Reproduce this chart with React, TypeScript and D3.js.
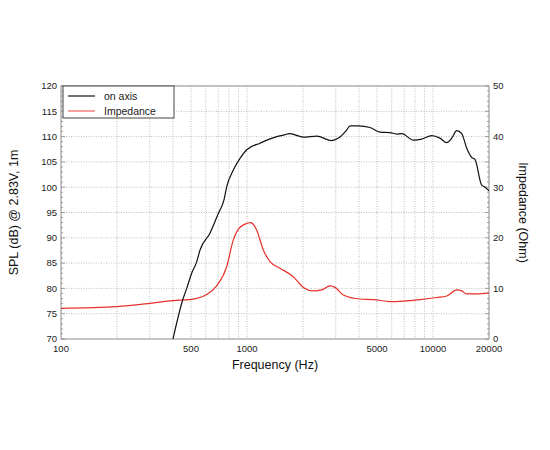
import React from "react";
import * as d3 from "d3";

const splFreq = [400, 451, 474, 504, 537, 559, 632, 701, 752, 778, 844, 917, 996, 1175, 1445, 1568, 1703, 2008, 2371, 2853, 3100, 3436, 3580, 3966, 4584, 5187, 5870, 6380, 6790, 7840, 8690, 9840, 10900, 11850, 12610, 13410, 14270, 15180, 16140, 16810, 18270, 19040, 20000];
const splDb = [70, 77.7, 80.0, 83.0, 85.3, 87.6, 90.9, 94.8, 97.5, 100.1, 103.4, 105.7, 107.4, 108.7, 110.0, 110.3, 110.6, 109.9, 110.1, 109.2, 109.7, 111.3, 112.1, 112.1, 111.8, 110.9, 110.8, 110.5, 110.6, 109.3, 109.5, 110.2, 109.7, 108.8, 109.7, 111.2, 110.6, 107.7, 105.9, 105.5, 100.4, 100.0, 99.3];

const impFreq = [100, 199, 301, 400, 494, 559, 607, 687, 778, 844, 898, 976, 1047, 1128, 1224, 1330, 1505, 1774, 2008, 2271, 2520, 2794, 2972, 3295, 4050, 4776, 5870, 6925, 8510, 10470, 11850, 13410, 14270, 15180, 17180, 20000];
const impOhm = [6.07, 6.4, 7.05, 7.6, 7.8, 8.2, 8.8, 10.5, 14.3, 19.6, 21.7, 22.7, 23.0, 21.5, 17.6, 15.3, 14.0, 12.3, 10.2, 9.5, 9.7, 10.5, 10.2, 8.7, 7.9, 7.8, 7.4, 7.5, 7.8, 8.2, 8.5, 9.7, 9.5, 8.9, 8.9, 9.1];

const xTickLabels = [100, 500, 1000, 5000, 10000, 20000];
const xGrid = [200, 300, 400, 500, 600, 700, 800, 900, 1000, 2000, 3000, 4000, 5000, 6000, 7000, 8000, 9000, 10000];
const yLeftTicks = [70, 75, 80, 85, 90, 95, 100, 105, 110, 115, 120];
const yRightTicks = [0, 10, 20, 30, 40, 50];
const seriesNames = ["on axis", "Impedance"];
const seriesColors = ["#111111", "#e8302a"];

export default function App() {
  const W = 550, H = 450;
  const L = 61, R = 489, T = 86, B = 339;
  const x = d3.scaleLog().domain([100, 20000]).range([L, R]);
  const yL = d3.scaleLinear().domain([70, 120]).range([B, T]);
  const yR = d3.scaleLinear().domain([0, 50]).range([B, T]);
  const font = "'Liberation Sans', Arial, Helvetica, sans-serif";

  const splLine = d3.line<number>()
    .x((_, i) => x(splFreq[i]))
    .y((d) => yL(d))
    .curve(d3.curveMonotoneX);
  const impLine = d3.line<number>()
    .x((_, i) => x(impFreq[i]))
    .y((d) => yR(d))
    .curve(d3.curveMonotoneX);

  const minorL = d3.range(70, 121, 1);
  const minorR = d3.range(0, 51, 1);

  return (
    <svg width={W} height={H} style={{ display: "block", position: "absolute", left: 0, top: 0 }} fontFamily={font}>
      <rect x={0} y={0} width={W} height={H} fill="#fff" />
      <defs>
        <clipPath id="plot">
          <rect x={L} y={T} width={R - L} height={B - T} />
        </clipPath>
      </defs>
      {xGrid.map((f) => (
        <line key={"vx" + f} x1={x(f)} x2={x(f)} y1={T} y2={B} stroke="#bdbdbd" strokeWidth={1} strokeDasharray="1,1.5" />
      ))}
      {yLeftTicks.slice(1, -1).map((v) => (
        <line key={"hy" + v} x1={L} x2={R} y1={yL(v)} y2={yL(v)} stroke="#bdbdbd" strokeWidth={1} strokeDasharray="1,1.5" />
      ))}
      <rect x={L} y={T} width={R - L} height={B - T} fill="none" stroke="#8a8a8a" strokeWidth={1} />
      {minorL.map((v) => (
        <line key={"ml" + v} x1={L} x2={L + (v % 5 === 0 ? 4 : 2)} y1={yL(v)} y2={yL(v)} stroke="#8a8a8a" strokeWidth={0.8} />
      ))}
      {minorR.map((v) => (
        <line key={"mr" + v} x1={R} x2={R - (v % 5 === 0 ? 4 : 2)} y1={yR(v)} y2={yR(v)} stroke="#8a8a8a" strokeWidth={0.8} />
      ))}
      {yLeftTicks.map((v) => (
        <text key={"tl" + v} x={L - 4} y={yL(v)} dy="0.35em" textAnchor="end" fontSize={9.5} fill="#222">{v}</text>
      ))}
      {yRightTicks.map((v) => (
        <text key={"tr" + v} x={R + 4} y={yR(v)} dy="0.35em" textAnchor="start" fontSize={9.5} fill="#222">{v}</text>
      ))}
      {xTickLabels.map((v) => (
        <text key={"tx" + v} x={x(v)} y={B + 13} textAnchor="middle" fontSize={9.5} fill="#222">{v}</text>
      ))}
      <g clipPath="url(#plot)">
        <path d={impLine(impOhm) || ""} fill="none" stroke={seriesColors[1]} strokeWidth={1.2} />
        <path d={splLine(splDb) || ""} fill="none" stroke={seriesColors[0]} strokeWidth={1.2} />
      </g>
      <g>
        <rect x={63} y={T} width={111} height={32} fill="#fff" stroke="#444" strokeWidth={1} />
        {seriesNames.map((n, i) => (
          <g key={n}>
            <line x1={68} x2={95} y1={96 + i * 15} y2={96 + i * 15} stroke={i === 0 ? seriesColors[0] : "#f06058"} strokeWidth={1.2} />
            <text x={104} y={96 + i * 15} dy="0.35em" fontSize={10.5} fill="#222">{n}</text>
          </g>
        ))}
      </g>
      <text x={(L + R) / 2} y={369} textAnchor="middle" fontSize={12.5} fill="#111">Frequency (Hz)</text>
      <text transform={`translate(14,${(T + B) / 2}) rotate(-90)`} textAnchor="middle" fontSize={12.5} fill="#111" dy="0.35em">SPL (dB) @ 2.83V, 1m</text>
      <text transform={`translate(523,${(T + B) / 2}) rotate(90)`} textAnchor="middle" fontSize={12.5} fill="#111" dy="0.35em">Impedance (Ohm)</text>
    </svg>
  );
}
